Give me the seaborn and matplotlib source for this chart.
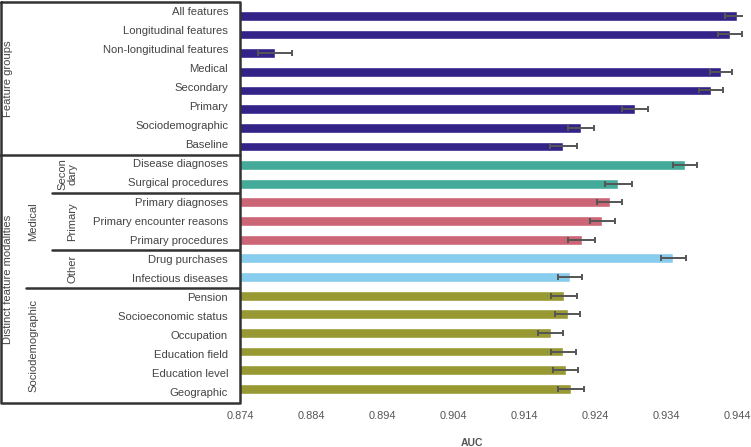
import matplotlib
matplotlib.use('Agg')
import matplotlib.pyplot as plt
import seaborn as sns
import pandas as pd

# AUC per feature set
labels = ['All features', 'Longitudinal features', 'Non-longitudinal features', 'Medical',
          'Secondary', 'Primary', 'Sociodemographic', 'Baseline',
          'Disease diagnoses', 'Surgical procedures',
          'Primary diagnoses', 'Primary encounter reasons', 'Primary procedures',
          'Drug purchases', 'Infectious diseases',
          'Pension', 'Socioeconomic status', 'Occupation', 'Education field',
          'Education level', 'Geographic']
auc = [0.9439, 0.9430, 0.8788, 0.9417, 0.9403, 0.9296, 0.9220, 0.9195,
       0.9366, 0.9272,
       0.9260, 0.9250, 0.9221,
       0.9350, 0.9204,
       0.9196, 0.9201, 0.9177, 0.9195, 0.9198, 0.9206]
err = [0.0016, 0.0017, 0.0024, 0.0016, 0.0017, 0.0018, 0.0018, 0.0019,
       0.0017, 0.0019,
       0.0018, 0.0018, 0.0019,
       0.0017, 0.0017,
       0.0018, 0.0018, 0.0018, 0.0018, 0.0018, 0.0018]
group = ['Feature groups'] * 8 + ['Secondary'] * 2 + ['Primary'] * 3 + ['Other'] * 2 + ['Sociodemographic'] * 6
xticks = [0.874, 0.884, 0.894, 0.904, 0.914, 0.924, 0.934, 0.944]

palette = {'Feature groups': '#332288', 'Secondary': '#44AA99', 'Primary': '#CC6677',
           'Other': '#88CCEE', 'Sociodemographic': '#999933'}

df = pd.DataFrame({'label': labels, 'auc': auc, 'err': err, 'group': group})

sns.set_style('white')
plt.rcParams['font.family'] = ['Liberation Sans', 'DejaVu Sans']
text_col = '#444444'

W, H = 751, 447
fig = plt.figure(figsize=(W / 100, H / 100), dpi=100)

# main bar axes
ax = fig.add_axes([240.5 / W, 1 - 398.3 / H, (743 - 240.5) / W, (398.3 - 6.4) / H])
sns.barplot(data=df, y='label', x='auc', hue='group', palette=palette, dodge=False,
            width=0.52, saturation=1, legend=False, ax=ax, orient='h')
ax.errorbar(df['auc'], range(len(df)), xerr=df['err'], fmt='none', ecolor='#555555',
            elinewidth=1.4, capsize=2, capthick=1.4, zorder=5)
ax.set_xlim(0.874, 0.9448)
ax.set_ylim(len(df) - 0.5, -0.5)
ax.set_xticks(xticks)
ax.set_xticklabels([f'{t:.3f}' for t in xticks], fontsize=7.9, color='#555555')
ax.tick_params(axis='x', length=0, pad=9)
ax.set_yticks([])
ax.set_ylabel('')
ax.set_xlabel('')
sns.despine(ax=ax, left=True, bottom=True)
fig.text(472 / W, 1 - 443 / H, 'AUC', ha='center', va='center', fontsize=7.5,
         fontweight='bold', color='#555555')

# left label table
tx = fig.add_axes([0, 1 - 403 / H, 241 / W, (403 - 2) / H])
tx.set_xlim(0, 241)
tx.set_ylim(len(df), 0)
tx.axis('off')
lc = '#333333'
lw = 1.8
tx.plot([1, 240, 240, 1, 1], [0, 0, 21, 21, 0], color=lc, lw=lw, clip_on=False)
tx.plot([0, 240], [8, 8], color=lc, lw=lw, clip_on=False)
tx.plot([26, 240], [15, 15], color=lc, lw=lw)
tx.plot([52, 240], [10, 10], color=lc, lw=lw)
tx.plot([52, 240], [13, 13], color=lc, lw=lw)

for i, lab in enumerate(labels):
    tx.text(228, i + 0.5, lab, ha='right', va='center', fontsize=8.1, color=text_col)

side = [('Feature groups', 8, 0, 8), ('Distinct feature modalities', 8, 8, 21),
        ('Medical', 33, 8, 15), ('Sociodemographic', 33, 15, 21),
        ('Secon\ndary', 67, 8, 10), ('Primary', 72, 10, 13), ('Other', 72, 13, 15)]
for txt, x, y0, y1 in side:
    tx.text(x, (y0 + y1) / 2, txt, ha='center', va='center', rotation=90,
            fontsize=8.1, color=text_col, linespacing=1.0)

fig.savefig('out.png', dpi=100)
